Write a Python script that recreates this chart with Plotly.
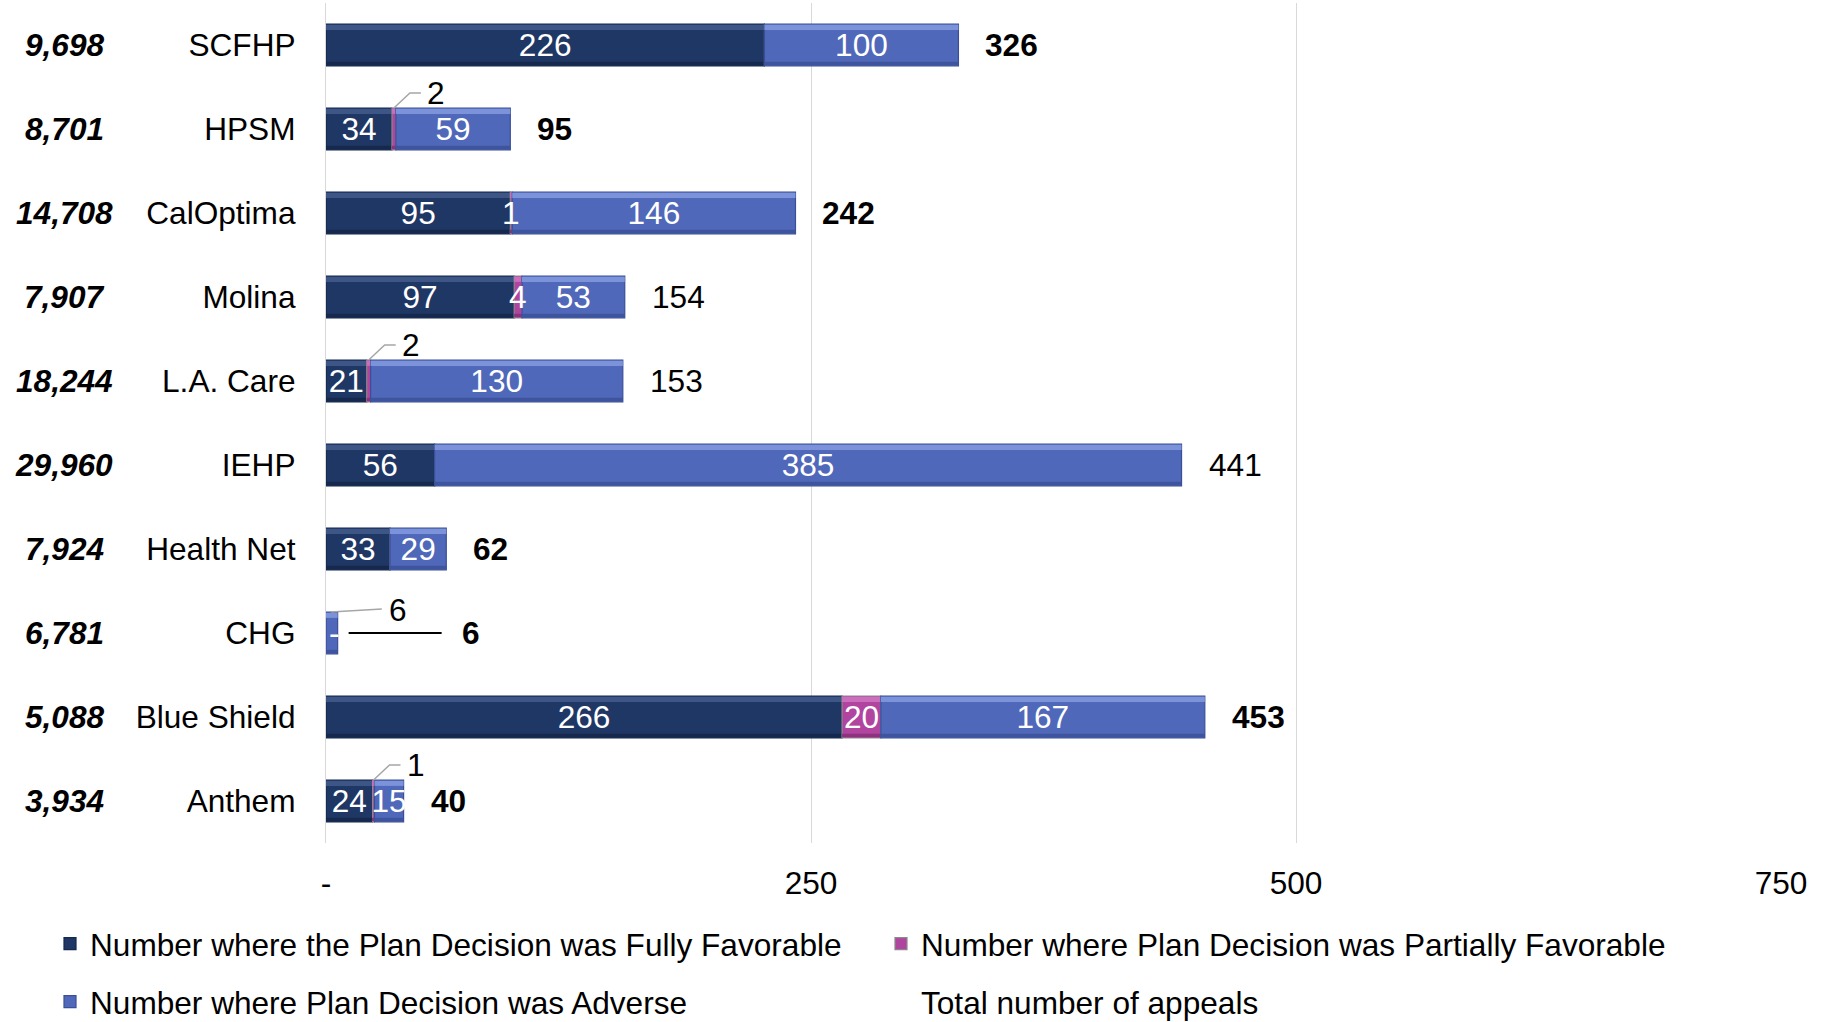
import plotly.graph_objects as go

# ---------------- data ----------------
plans = ["SCFHP", "HPSM", "CalOptima", "Molina", "L.A. Care", "IEHP",
         "Health Net", "CHG", "Blue Shield", "Anthem"]
members = ["9,698", "8,701", "14,708", "7,907", "18,244", "29,960",
           "7,924", "6,781", "5,088", "3,934"]
fully = [226, 34, 95, 97, 21, 56, 33, 0, 266, 24]
partial = [0, 2, 1, 4, 2, 0, 0, 0, 20, 1]
adverse = [100, 59, 146, 53, 130, 385, 29, 6, 167, 15]
totals = [326, 95, 242, 154, 153, 441, 62, 6, 453, 40]
total_bold = [True, True, True, False, False, False, True, True, True, True]
x_tickvals = [0, 250, 500, 750]
x_ticktext = ["-", "250", "500", "750"]
leader_partial = ["HPSM", "L.A. Care", "Anthem"]   # labels pulled out with a leader line
leader_adverse = ["CHG"]
zero_dash_plans = ["CHG"]                           # zero value shown as "-"

series_names = ["Number where the Plan Decision was Fully Favorable",
                "Number where Plan Decision was Partially Favorable",
                "Number where Plan Decision was Adverse",
                "Total number of appeals"]

# ---------------- style ----------------
FONT = "Liberation Sans, Arial, sans-serif"
FS = 31.6
NAVY, NAVY_LINE, NAVY_HI, NAVY_LO = "#1F3764", "#15284C", "#3D5686", "#16294D"
PINK, PINK_LINE, PINK_HI, PINK_LO = "#B0449F", "#8A8A8A", "#CB6FBC", "#8C327E"
BLUE, BLUE_LINE, BLUE_HI, BLUE_LO = "#5068B9", "#3A4F98", "#7D93D9", "#3E549C"
BAR_W = 0.5

ypos = list(range(len(plans)))
base_partial = [f for f in fully]
base_adverse = [f + p for f, p in zip(fully, partial)]


def seg_text(vals, skip):
    out = []
    for p, v in zip(plans, vals):
        out.append("" if (v == 0 or p in skip) else str(v))
    return out


fig = go.Figure()
segments = [
    (fully, [0] * len(plans), NAVY, NAVY_LINE, NAVY_HI, NAVY_LO, series_names[0], "legend", seg_text(fully, [])),
    (partial, base_partial, PINK, PINK_LINE, PINK_HI, PINK_LO, series_names[1], "legend2", None),
    (adverse, base_adverse, BLUE, BLUE_LINE, BLUE_HI, BLUE_LO, series_names[2], "legend3", seg_text(adverse, leader_adverse)),
]
for vals, base, col, lcol, hi, lo, name, leg, txt in segments:
    kw = dict(textposition="none")
    if txt is not None:
        kw = dict(text=txt, textposition="inside", insidetextanchor="middle",
                  constraintext="none", textangle=0,
                  textfont=dict(color="white", size=FS, family=FONT))
    fig.add_trace(go.Bar(
        y=ypos, x=vals, base=base, orientation="h", name=name, legend=leg, width=BAR_W,
        marker=dict(color=col, line=dict(color=lcol, width=1.2)),
        hoverinfo="skip", **kw))
    # bevel: light top edge and darker bottom edge
    fig.add_trace(go.Bar(
        y=ypos, x=vals, base=base, orientation="h", width=0.06, offset=-BAR_W / 2 + 0.01,
        marker=dict(color=hi, line=dict(width=0)), showlegend=False,
        textposition="none", hoverinfo="skip"))
    fig.add_trace(go.Bar(
        y=ypos, x=vals, base=base, orientation="h", width=0.04, offset=BAR_W / 2 - 0.05,
        marker=dict(color=lo, line=dict(width=0)), showlegend=False,
        textposition="none", hoverinfo="skip"))

fig.add_trace(go.Scatter(
    y=ypos, x=totals, mode="markers", name=series_names[3], legend="legend4",
    marker=dict(color="rgba(0,0,0,0)", size=1), hoverinfo="skip"))

annotations = []
shapes = []

# member counts (left column)
for i, m in enumerate(members):
    annotations.append(dict(xref="paper", yref="y", x=-0.18, y=ypos[i],
                            text=f"<b><i>{m}</i></b>", showarrow=False,
                            xanchor="center", yanchor="middle",
                            font=dict(size=FS, color="black", family=FONT)))

# totals
for i, (p, t, b) in enumerate(zip(plans, totals, total_bold)):
    txt = f"<b>{t}</b>" if b else str(t)
    shift = 25
    if p == "CHG":
        shift = 122
        shapes.append(dict(type="path", xref="x", yref="y",
                           xsizemode="pixel", ysizemode="pixel",
                           xanchor=t, yanchor=ypos[i],
                           path="M11,0 L104,0", line=dict(color="black", width=2)))
    annotations.append(dict(x=t, y=ypos[i], text=txt, showarrow=False,
                            xanchor="left", yanchor="middle", xshift=shift,
                            font=dict(size=FS, color="black", family=FONT)))

# partial-segment labels (inline in white, or pulled out with a leader line)
for i, p in enumerate(plans):
    mid = fully[i] + partial[i] / 2
    if partial[i] == 0:
        pass
    elif p in leader_partial:
        shapes.append(dict(type="path", xref="x", yref="y",
                           xsizemode="pixel", ysizemode="pixel",
                           xanchor=mid, yanchor=ypos[i],
                           path="M0,21 L16,36 L27,36",
                           line=dict(color="#A6A6A6", width=1.5)))
        annotations.append(dict(x=mid, y=ypos[i], text=str(partial[i]), showarrow=False,
                                xanchor="center", yanchor="middle", xshift=42, yshift=36,
                                font=dict(size=FS, color="black", family=FONT)))
    else:
        annotations.append(dict(x=mid, y=ypos[i], text=str(partial[i]), showarrow=False,
                                xanchor="center", yanchor="middle",
                                font=dict(size=FS, color="white", family=FONT)))
    if p in leader_adverse:
        ax_x = fully[i] + partial[i] + adverse[i] / 2
        shapes.append(dict(type="path", xref="x", yref="y",
                           xsizemode="pixel", ysizemode="pixel",
                           xanchor=ax_x, yanchor=ypos[i],
                           path="M-1,21 L50,24",
                           line=dict(color="#A6A6A6", width=1.5)))
        annotations.append(dict(x=ax_x, y=ypos[i], text=str(adverse[i]), showarrow=False,
                                xanchor="center", yanchor="middle", xshift=66, yshift=23,
                                font=dict(size=FS, color="black", family=FONT)))
    if p in zero_dash_plans:
        annotations.append(dict(x=0, y=ypos[i], text="-", showarrow=False,
                                xanchor="left", yanchor="middle", xshift=1,
                                font=dict(size=FS, color="white", family=FONT)))

legend_common = dict(xref="container", yref="container", xanchor="left", yanchor="middle",
                     bgcolor="rgba(0,0,0,0)", font=dict(size=FS, color="black", family=FONT),
                     itemclick=False, itemdoubleclick=False, visible=True)

fig.update_layout(
    width=1824, height=1022,
    showlegend=True,
    margin=dict(l=326, r=43, t=3, b=179, autoexpand=False),
    paper_bgcolor="white", plot_bgcolor="white",
    barmode="overlay",
    font=dict(family=FONT, size=FS, color="black"),
    xaxis=dict(range=[0, 750], tickmode="array", tickvals=x_tickvals, ticktext=x_ticktext,
               showgrid=True, gridcolor="#D9D9D9", gridwidth=1.3, zeroline=False,
               showline=False, ticks="", ticklabelstandoff=18, automargin=False,
               tickangle=0,
               tickfont=dict(size=FS, color="black", family=FONT)),
    yaxis=dict(range=[len(plans) - 0.5, -0.5], tickmode="array", tickvals=ypos, ticktext=plans,
               showgrid=False, zeroline=False, showline=True, linecolor="#D9D9D9", linewidth=1.3,
               ticks="", ticklabelstandoff=23, automargin=False,
               tickfont=dict(size=FS, color="black", family=FONT)),
    legend=dict(x=50 / 1824, y=1 - 944 / 1022, **legend_common),
    legend2=dict(x=881 / 1824, y=1 - 944 / 1022, **legend_common),
    legend3=dict(x=50 / 1824, y=1 - 1002 / 1022, **legend_common),
    legend4=dict(x=881 / 1824, y=1 - 1002 / 1022, **legend_common),
    annotations=annotations,
    shapes=shapes,
)

fig.write_html("out.html", config={"displayModeBar": False},
               post_script="document.body.style.margin='0px';")
